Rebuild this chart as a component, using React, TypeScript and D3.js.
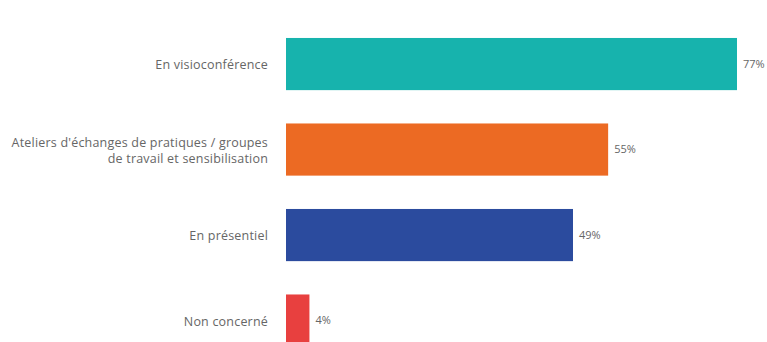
import React from "react";
import * as d3 from "d3";

const categories: string[][] = [
  ["En visioconférence"],
  ["Ateliers d'échanges de pratiques / groupes", "de travail et sensibilisation"],
  ["En présentiel"],
  ["Non concerné"],
];
const values: number[] = [77, 55, 49, 4];
const colors: string[] = ["#17b3ad", "#ec6a23", "#2b4b9e", "#e8403f"];

const W = 767;
const H = 342;

export default function App() {
  const x = d3.scaleLinear().domain([0, 77]).range([286, 737]);
  const y = d3
    .scaleBand<number>()
    .domain(d3.range(values.length))
    .range([38 - 16.7, 38 - 16.7 + 4 * 85.5])
    .paddingInner(0.39)
    .paddingOuter(0.195);
  const font = "'Open Sans', sans-serif";
  return (
    <svg
      width={W}
      height={H}
      style={{ position: "absolute", left: 0, top: 0, background: "#fff" }}
    >
      {values.map((v, i) => {
        const y0 = y(i)!;
        const bh = y.bandwidth();
        const cy = y0 + bh / 2;
        const lines = categories[i];
        const lh = 16;
        return (
          <g key={i}>
            <rect x={x(0)} y={y0} width={x(v) - x(0)} height={bh} fill={colors[i]} />
            <text
              x={x(v) + 6}
              y={cy}
              dy="0.35em"
              fontFamily={font}
              fontSize={11}
              fill="#666"
            >
              {v}%
            </text>
            {lines.map((l, j) => (
              <text
                key={j}
                x={268}
                y={cy + 1 + (j - (lines.length - 1) / 2) * lh}
                dy="0.35em"
                textAnchor="end"
                fontFamily={font}
                fontSize={12.5}
                letterSpacing={0.2}
                fill="#666"
              >
                {l}
              </text>
            ))}
          </g>
        );
      })}
    </svg>
  );
}
